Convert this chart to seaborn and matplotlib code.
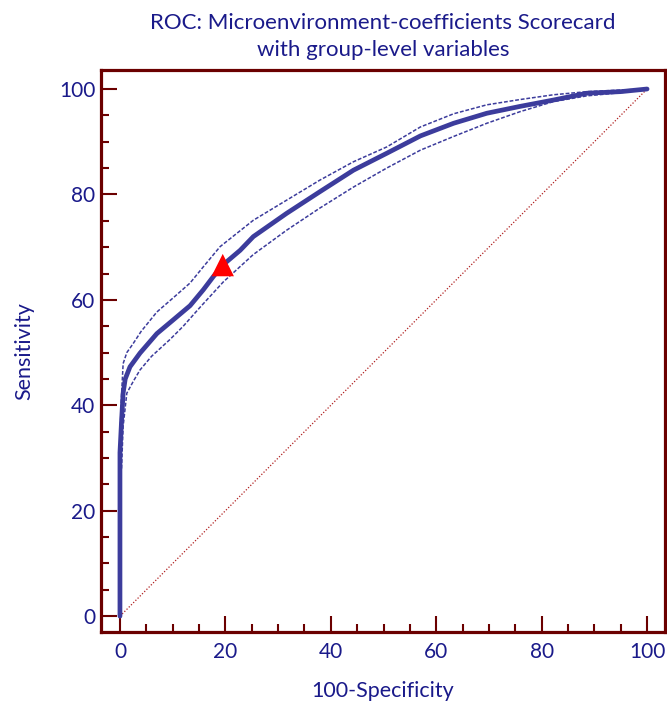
import pandas as pd
import seaborn as sns
import matplotlib.pyplot as plt
import numpy as np

# ROC curve (100-specificity vs sensitivity, in %)
roc_x = [0, 0, 0.3, 0.6, 1.0, 1.9, 3.8, 7.0, 10.1, 13.3, 15.8, 17.7, 19.5, 22.8, 25.3,
         31.6, 37.9, 44.3, 50.6, 57.0, 63.3, 69.6, 75.9, 82.2, 88.6, 95.0, 100]
roc_y = [0, 31, 37, 42.3, 45, 47.3, 49.9, 53.6, 56.2, 58.9, 61.9, 64.4, 66.6, 69.4, 72.0,
         76.4, 80.5, 84.6, 87.8, 91.1, 93.5, 95.4, 96.7, 97.9, 99.2, 99.5, 100]

# 95% confidence bounds
upper_x = [0, 0.3, 0.6, 1.3, 2.5, 4.0, 7.0, 10.0, 13.3, 16.0, 19.0, 25.3, 31.6, 37.9,
           44.3, 50.6, 57.0, 63.3, 69.6, 75.9, 82.2, 88.6, 95.0, 100]
upper_y = [34, 42, 47.9, 50.0, 51.7, 54.0, 57.7, 60.3, 63.2, 66.5, 70.1, 75.1, 78.9, 82.7,
           86.2, 89.0, 92.8, 95.3, 97.0, 98.0, 98.9, 99.5, 99.8, 100]
lower_x = [0.3, 0.6, 1.3, 2.5, 3.8, 6.0, 9.5, 12.0, 15.2, 19.6, 25.3, 31.6, 37.9, 44.3,
           50.6, 57.0, 63.3, 69.6, 75.9, 82.2, 88.6, 95.0, 100]
lower_y = [28, 36, 42.3, 44.5, 46.7, 49.3, 52.5, 55.0, 58.6, 63.4, 68.6, 73.2, 77.4, 81.4,
           85.0, 88.4, 91.0, 93.5, 95.7, 97.6, 98.7, 99.3, 100]

# optimal cut-off point
cut_x = [19.5]
cut_y = [66.6]

navy = '#1a1a8a'
curve = '#3c3c9c'
frame = '#6b0000'

sns.set_style('white')
plt.rcParams['font.family'] = ['Lato', 'DejaVu Sans']

fig = plt.figure(figsize=(6.67, 7.03), dpi=100)
ax = fig.add_axes([0.1514, 0.101, 0.8456, 0.7994])

# diagonal reference line
ax.plot([0, 100], [0, 100], linestyle=(0, (1, 1.5)), color='#b02020', linewidth=0.9)

roc = pd.DataFrame({'x': roc_x, 'y': roc_y})
up = pd.DataFrame({'x': upper_x, 'y': upper_y})
lo = pd.DataFrame({'x': lower_x, 'y': lower_y})

sns.lineplot(data=up, x='x', y='y', sort=False, estimator=None, ax=ax, color=curve,
             linewidth=1.1, linestyle=(0, (2.5, 1.2)))
sns.lineplot(data=lo, x='x', y='y', sort=False, estimator=None, ax=ax, color=curve,
             linewidth=1.1, linestyle=(0, (2.5, 1.2)))
sns.lineplot(data=roc, x='x', y='y', sort=False, estimator=None, ax=ax, color=curve,
             linewidth=3.4)
sns.scatterplot(x=cut_x, y=cut_y, ax=ax, marker='^', s=260, color='#ff0000',
                edgecolor='none', zorder=5)

ax.set_xlim(-3.6, 103.4)
ax.set_ylim(-3.0, 103.6)
ax.set_xticks(np.arange(0, 101, 20))
ax.set_yticks(np.arange(0, 101, 20))
ax.set_xticks(np.arange(0, 101, 5), minor=True)
ax.set_yticks(np.arange(0, 101, 5), minor=True)

for s in ax.spines.values():
    s.set_color(frame)
    s.set_linewidth(2.3)

ax.tick_params(which='major', direction='in', length=11.5, width=1.5, color=frame,
               labelsize=15, labelcolor=navy, bottom=True, left=True, top=False, right=False)
ax.tick_params(which='minor', direction='in', length=5.8, width=1.5, color=frame,
               bottom=True, left=True, top=False, right=False)
ax.tick_params(axis='y', which='major', pad=4)
ax.tick_params(axis='x', which='major', pad=7)

ax.set_xlabel('100-Specificity', fontsize=15.5, color=navy, labelpad=14)
ax.set_ylabel('Sensitivity', fontsize=15.5, color=navy, labelpad=18)
ax.set_title('ROC: Microenvironment-coefficients Scorecard\nwith group-level variables',
             fontsize=16, color=navy, pad=10, linespacing=1.45)

fig.savefig('out.png', dpi=100)
